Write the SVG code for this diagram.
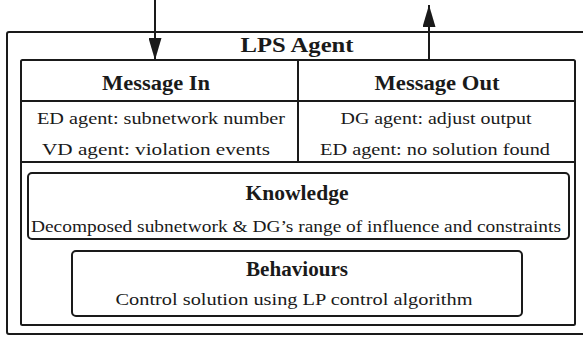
<svg xmlns="http://www.w3.org/2000/svg" width="583" height="341" viewBox="0 0 583 341">
<style>
.box{fill:none;stroke:#1a1a1a;stroke-width:2}
.t{font-family:'Liberation Serif','Times New Roman',serif;fill:#1a1a1a;text-anchor:middle}
.b{font-weight:bold;font-size:20px}
.n{font-size:17.5px}
.c{stroke:#1a1a1a;stroke-width:2;fill:none}
</style>
<defs>
<marker id="ah" markerWidth="22" markerHeight="13" refX="22" refY="6.5" orient="auto" markerUnits="userSpaceOnUse" viewBox="0 0 22 13">
<path d="M0,0 L22,6.5 L0,13 Z" fill="#1a1a1a"/>
</marker>
</defs>
<rect width="583" height="341" fill="#fff"/>
<g id="lps-agent">
<path class="box" d="M7,34 Q7,32 9,32 L583,32 M7,34 L7,332 Q7,334 9,334 L583,334"/>
<text class="t b" x="297" y="52" style="font-size:22px" textLength="113" lengthAdjust="spacingAndGlyphs">LPS Agent</text>
<rect class="box" x="21" y="60" width="554" height="265" rx="1.5"/>
</g>
<g id="message-in">
<line class="c" x1="21" y1="101" x2="575" y2="101"/>
<line class="c" x1="21" y1="162" x2="575" y2="162"/>
<line class="c" x1="298" y1="60" x2="298" y2="162"/>
<text class="t b" x="156" y="90" textLength="108" lengthAdjust="spacingAndGlyphs">Message In</text>
<text class="t n" x="161" y="124" textLength="248" lengthAdjust="spacingAndGlyphs">ED agent:  subnetwork  number</text>
<text class="t n" x="156" y="155" textLength="228" lengthAdjust="spacingAndGlyphs">VD agent:  violation  events</text>
</g>
<g id="message-out">
<text class="t b" x="437" y="90" textLength="125" lengthAdjust="spacingAndGlyphs">Message Out</text>
<text class="t n" x="436" y="124" textLength="191" lengthAdjust="spacingAndGlyphs">DG agent:  adjust  output</text>
<text class="t n" x="435" y="155" textLength="230" lengthAdjust="spacingAndGlyphs">ED agent:  no  solution  found</text>
</g>
<g id="knowledge">
<rect class="box" x="28" y="173" width="541" height="66" rx="4"/>
<text class="t b" x="297" y="200" textLength="103" lengthAdjust="spacingAndGlyphs">Knowledge</text>
<text class="t n" x="296" y="232" textLength="530" lengthAdjust="spacingAndGlyphs">Decomposed subnetwork &amp; DG’s range of influence  and  constraints</text>
</g>
<g id="behaviours">
<rect class="box" x="72" y="251" width="450" height="65" rx="4"/>
<text class="t b" x="297" y="276" textLength="102" lengthAdjust="spacingAndGlyphs">Behaviours</text>
<text class="t n" x="294" y="305" textLength="357" lengthAdjust="spacingAndGlyphs">Control  solution  using  LP control  algorithm</text>
</g>
<g id="connectors">
<line class="c" x1="155" y1="0" x2="155" y2="60" marker-end="url(#ah)"/>
<line class="c" x1="429" y1="60" x2="429" y2="5" marker-end="url(#ah)"/>
</g>
</svg>
